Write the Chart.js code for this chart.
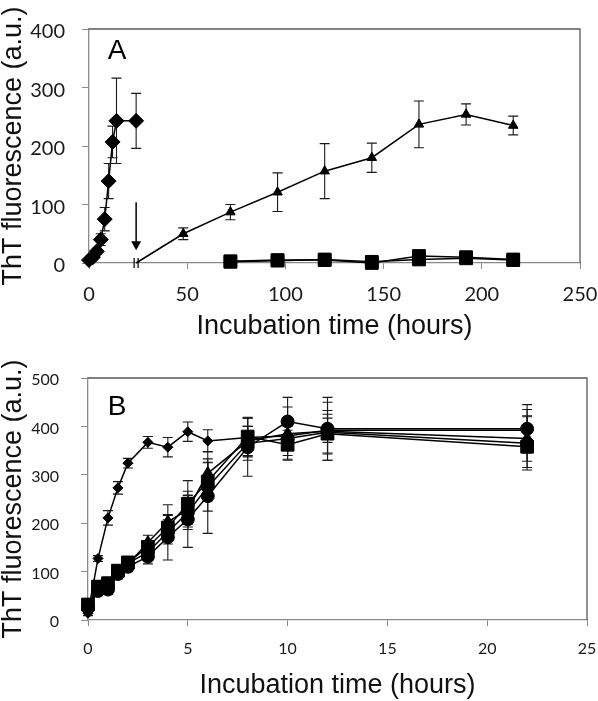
<!DOCTYPE html>
<html>
<head>
<meta charset="utf-8">
<script src="https://cdn.jsdelivr.net/npm/chart.js@4.4.1/dist/chart.umd.min.js"></script>
<style>
  html, body { margin: 0; padding: 0; background: #fff; }
  #wrap { position: relative; width: 598px; height: 701px; }
  canvas { position: absolute; left: 0; }
  #chartA { top: 0; }
  #chartB { top: 345px; }
</style>
</head>
<body>
<div id="wrap">
  <canvas id="chartA" width="598" height="345"></canvas>
  <canvas id="chartB" width="598" height="356"></canvas>
</div>
<script>
(function () {
    'use strict';

    // Panel A (hours, ThT a.u., +/- error)
    var A_DIAMOND_T   = [0, 2, 4, 6, 8, 10, 12, 14, 24];
    var A_DIAMOND_Y   = [5, 10, 20, 40, 75, 140, 207, 243, 243];
    var A_DIAMOND_ERR = [0, 3, 5, 10, 20, 30, 27, 73, 47];

    var A_TRIANGLE_T   = [24, 48, 72, 96, 120, 144, 168, 192, 216];
    var A_TRIANGLE_Y   = [0, 50, 87, 121, 157, 180, 237, 254, 235];
    var A_TRIANGLE_ERR = [0, 10, 13, 33, 47, 25, 40, 18, 16];

    var A_SQUARE_T  = [72, 96, 120, 144, 168, 192, 216];
    var A_SQUARE_Y  = [3, 5, 5, 0, 12, 10, 6];
    var A_SQUARE2_Y = [2, 4, 6, 2, 6, 8, 5];

    var A_X_TICKS = [0, 50, 100, 150, 200, 250];
    var A_Y_TICKS = [0, 100, 200, 300, 400];
    var A_ARROW   = [24, 104, 22];   // time, tail value, tip value
    var A_BREAK   = [24, 0];

    // Panel B
    var B_T = [0, 0.5, 1, 1.5, 2, 3, 4, 5, 6, 8, 10, 12, 22];
    var B_DIAMOND_Y    = [14, 127, 211, 273, 324, 367, 357, 389, 370, 377, 380, 392, 392];
    var B_DIAMOND_ERR  = [5, 6, 15, 13, 10, 12, 20, 20, 23, 40, 20, 25, 30];
    var B_SQUARE_Y     = [32, 69, 76, 102, 119, 151, 191, 240, 286, 379, 362, 385, 358];
    var B_SQUARE_ERR   = [10, 12, 12, 10, 10, 12, 25, 48, 40, 40, 30, 40, 30];
    var B_TRIANGLE_Y   = [28, 62, 72, 98, 115, 160, 203, 228, 303, 370, 385, 390, 375];
    var B_TRIANGLE_ERR = [8, 10, 10, 10, 10, 15, 35, 30, 45, 30, 55, 60, 60];
    var B_CIRCLE_Y     = [25, 60, 63, 95, 110, 131, 171, 208, 256, 357, 410, 395, 395];
    var B_CIRCLE_ERR   = [10, 10, 10, 10, 10, 15, 47, 58, 77, 60, 50, 65, 50];
    var B_CIRCLE2_Y    = [30, 65, 70, 100, 117, 140, 182, 222, 275, 365, 375, 388, 365];
    var B_CIRCLE2_ERR  = [8, 10, 10, 10, 10, 12, 25, 35, 50, 35, 35, 45, 55];

    var B_X_TICKS = [0, 5, 10, 15, 20, 25];
    var B_Y_TICKS = [0, 100, 200, 300, 400, 500];

    function points(t, y) {
        return t.map(function (v, i) { return { x: v, y: y[i] }; });
    }

    function series(t, y, err, style, radius, width) {
        return {
            data: points(t, y),
            errors: err,
            showLine: true,
            borderColor: '#000',
            backgroundColor: '#000',
            borderWidth: width,
            pointStyle: style,
            pointRadius: radius,
            pointHoverRadius: radius,
            pointBorderWidth: 1,
            clip: false
        };
    }

    var errorBars = {
        id: 'errorBars',
        beforeDatasetsDraw: function (chart, args, opts) {
            var ctx = chart.ctx, ys = chart.scales.y;
            ctx.save();
            ctx.strokeStyle = '#1a1a1a';
            ctx.lineWidth = opts.lineWidth;
            chart.data.datasets.forEach(function (ds, di) {
                if (!ds.errors) return;
                var meta = chart.getDatasetMeta(di);
                meta.data.forEach(function (pt, i) {
                    var e = ds.errors[i];
                    if (!e) return;
                    var v = ds.data[i].y;
                    var top = ys.getPixelForValue(v + e);
                    var bot = ys.getPixelForValue(v - e);
                    ctx.beginPath();
                    ctx.moveTo(pt.x, top); ctx.lineTo(pt.x, bot);
                    ctx.moveTo(pt.x - opts.cap, top); ctx.lineTo(pt.x + opts.cap, top);
                    ctx.moveTo(pt.x - opts.cap, bot); ctx.lineTo(pt.x + opts.cap, bot);
                    ctx.stroke();
                });
            });
            ctx.restore();
        }
    };

    // top and right sides of the plot box, plus the panel letter
    var frame = {
        id: 'frame',
        beforeDatasetsDraw: function (chart, args, opts) {
            var ctx = chart.ctx, a = chart.chartArea;
            ctx.save();
            ctx.strokeStyle = '#5a5a5a';
            ctx.lineWidth = 1.3;
            ctx.beginPath();
            ctx.moveTo(a.left, a.top);
            ctx.lineTo(a.right, a.top);
            ctx.lineTo(a.right, a.bottom);
            ctx.stroke();
            ctx.fillStyle = '#000';
            ctx.font = '28px "Liberation Sans", Arial, sans-serif';
            ctx.textAlign = 'center';
            ctx.textBaseline = 'middle';
            ctx.fillText(opts.letter, a.left + opts.dx, a.top + opts.dy);
            ctx.restore();
        }
    };

    var marksA = {
        id: 'marksA',
        afterDatasetsDraw: function (chart) {
            var ctx = chart.ctx, xs = chart.scales.x, ys = chart.scales.y;
            var ax = xs.getPixelForValue(A_ARROW[0]);
            var y0 = ys.getPixelForValue(A_ARROW[1]);
            var y1 = ys.getPixelForValue(A_ARROW[2]);
            ctx.save();
            ctx.strokeStyle = '#000';
            ctx.fillStyle = '#000';
            ctx.lineWidth = 1.5;
            ctx.beginPath(); ctx.moveTo(ax, y0); ctx.lineTo(ax, y1 - 7); ctx.stroke();
            ctx.beginPath();
            ctx.moveTo(ax - 5, y1 - 9); ctx.lineTo(ax + 5, y1 - 9); ctx.lineTo(ax, y1);
            ctx.closePath(); ctx.fill();
            var bx = xs.getPixelForValue(A_BREAK[0]);
            var by = ys.getPixelForValue(A_BREAK[1]);
            ctx.lineWidth = 1.2;
            ctx.beginPath();
            ctx.moveTo(bx - 2, by - 5); ctx.lineTo(bx - 2, by + 5);
            ctx.moveTo(bx + 2, by - 5); ctx.lineTo(bx + 2, by + 5);
            ctx.stroke();
            ctx.restore();
        }
    };

    function axes(xTicks, yTicks, c) {
        var titleFont = { family: '"Liberation Sans", Arial, sans-serif', size: 27, lineHeight: 1 };
        var tickFont = { family: 'Lato, "Open Sans", sans-serif', size: c.tickSize };
        // x labels are pushed down by line height, not padding (padding widens the side margins)
        var xTickFont = { family: tickFont.family, size: c.tickSize, lineHeight: c.xLine };
        return {
            x: {
                type: 'linear',
                min: xTicks[0],
                max: xTicks[xTicks.length - 1],
                ticks: { stepSize: xTicks[1] - xTicks[0], font: xTickFont, color: '#1a1a1a',
                         padding: 0, maxRotation: 0, autoSkip: false },
                grid: { drawOnChartArea: false, drawTicks: true, tickLength: 6, tickColor: '#8a8a8a' },
                border: { color: '#8a8a8a', width: 1.3 },
                title: { display: true, text: 'Incubation time (hours)', font: titleFont,
                         color: '#111', padding: { top: 0, bottom: c.titlePad } },
                afterFit: function (s) { s.height = c.xHeight; }
            },
            y: {
                min: yTicks[0],
                max: yTicks[yTicks.length - 1],
                ticks: { stepSize: yTicks[1] - yTicks[0], font: tickFont, color: '#1a1a1a',
                         padding: c.yPad, labelOffset: c.labelOffset, autoSkip: false },
                grid: { drawOnChartArea: false, drawTicks: true, tickLength: 7, tickColor: '#8a8a8a' },
                border: { color: '#8a8a8a', width: 1.3 },
                title: { display: true, text: 'ThT fluorescence (a.u.)', font: titleFont,
                         color: '#111', padding: { top: 0, bottom: 0 } },
                afterFit: function (s) { s.width = c.yWidth; }
            }
        };
    }

    var squareA = series(A_SQUARE_T, A_SQUARE_Y, null, 'rect', 9, 1.5);
    var squareA2 = series(A_SQUARE_T, A_SQUARE2_Y, null, 'rect', 9, 1.5);
    var triangleA = series(A_TRIANGLE_T, A_TRIANGLE_Y, A_TRIANGLE_ERR, 'triangle', 5.5, 1.5);
    triangleA.pointRadius = A_TRIANGLE_T.map(function (t, i) { return i === 0 ? 0 : 5.5; });
    var diamondA = series(A_DIAMOND_T, A_DIAMOND_Y, A_DIAMOND_ERR, 'rectRot', 7.5, 1.5);

    new Chart(document.getElementById('chartA'), {
        type: 'scatter',
        data: { datasets: [squareA, squareA2, triangleA, diamondA] },
        options: {
            responsive: false,
            animation: false,
            layout: { padding: { left: 0, right: 18, top: 28, bottom: 0 } },
            plugins: {
                legend: { display: false },
                tooltip: { enabled: false },
                errorBars: { cap: 5, lineWidth: 1.1 },
                frame: { letter: 'A', dx: 28, dy: 22 }
            },
            scales: axes(A_X_TICKS, A_Y_TICKS, {
                tickSize: 20, xLine: 2.6, yPad: 17, labelOffset: 3,
                xHeight: 82, yWidth: 89, titlePad: 4.5
            })
        },
        plugins: [errorBars, frame, marksA]
    });

    new Chart(document.getElementById('chartB'), {
        type: 'scatter',
        data: {
            datasets: [
                series(B_T, B_CIRCLE_Y, B_CIRCLE_ERR, 'circle', 6.5, 1.5),
                series(B_T, B_CIRCLE2_Y, B_CIRCLE2_ERR, 'circle', 6.5, 1.5),
                series(B_T, B_TRIANGLE_Y, B_TRIANGLE_ERR, 'triangle', 7, 1.5),
                series(B_T, B_SQUARE_Y, B_SQUARE_ERR, 'rect', 9, 1.5),
                series(B_T, B_DIAMOND_Y, B_DIAMOND_ERR, 'rectRot', 5, 1.5)
            ]
        },
        options: {
            responsive: false,
            animation: false,
            layout: { padding: { left: 0, right: 11, top: 33, bottom: 0 } },
            plugins: {
                legend: { display: false },
                tooltip: { enabled: false },
                errorBars: { cap: 5, lineWidth: 1.1 },
                frame: { letter: 'B', dx: 29, dy: 29 }
            },
            scales: axes(B_X_TICKS, B_Y_TICKS, {
                tickSize: 16, xLine: 2.875, yPad: 22, labelOffset: 2,
                xHeight: 81, yWidth: 88, titlePad: 1.5
            })
        },
        plugins: [errorBars, frame]
    });
}());
</script>
</body>
</html>
